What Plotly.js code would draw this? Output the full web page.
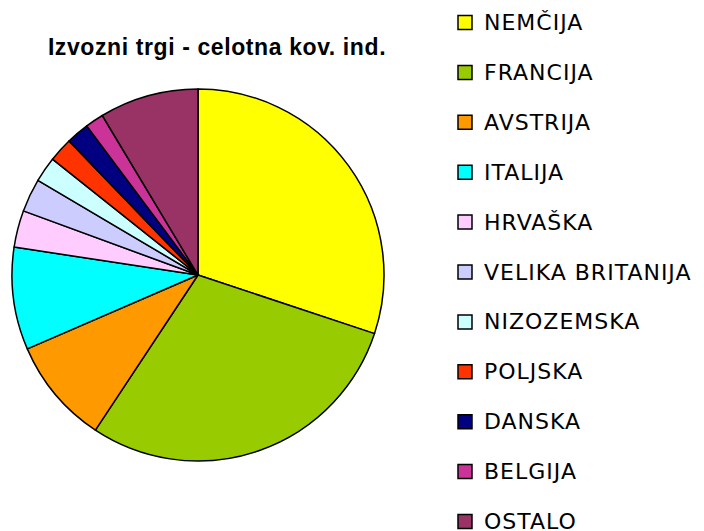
<!DOCTYPE html>
<html>
<head>
<meta charset="utf-8">
<script src="https://cdn.plot.ly/plotly-3.0.1.min.js"></script>
<style>html,body{margin:0;padding:0;background:#fff;}
.annotation-text{letter-spacing:1px;}
.gtitle{letter-spacing:0.6px;}
</style>
</head>
<body>
<div id="chart" style="width:704px;height:531px;"></div>
<script>
const labels = ["NEMČIJA","FRANCIJA","AVSTRIJA","ITALIJA","HRVAŠKA","VELIKA BRITANIJA","NIZOZEMSKA","POLJSKA","DANSKA","BELGIJA","OSTALO"];
const values = [30.1, 29.2, 9.2, 8.9, 3.2, 2.9, 2.2, 2.1, 2.0, 1.6, 8.6];
const colors = ["#FFFF00","#99CC00","#FF9900","#00FFFF","#FFCCFF","#CCCCFF","#CCFFFF","#FF3300","#000080","#CC3399","#993366"];
const titleText = "Izvozni trgi - celotna kov. ind.";

const W = 704, H = 531;
const px = x => x / W;
const py = y => 1 - y / H;

const trace = {
  type: "pie",
  labels: labels,
  values: values,
  sort: false,
  direction: "clockwise",
  rotation: 0,
  textinfo: "none",
  hoverinfo: "label+percent",
  marker: {colors: colors, line: {color: "#000000", width: 1.5}},
  domain: {x: [px(12), px(384)], y: [py(461), py(89)]},
  showlegend: false
};

const shapes = [];
const annotations = [];
labels.forEach((lab, i) => {
  const cy = 22.5 + i * 49.9;
  shapes.push({type: "rect", xref: "paper", yref: "paper",
    x0: px(458), x1: px(472), y0: py(cy + 7), y1: py(cy - 7),
    fillcolor: colors[i], line: {color: "#000000", width: 1.5}});
  annotations.push({xref: "paper", yref: "paper", x: px(482), y: py(cy),
    xanchor: "left", yanchor: "middle", showarrow: false, text: lab,
    font: {family: "DejaVu Sans", size: 22, color: "#000000"}});
});

const layout = {
  width: W, height: H,
  margin: {l: 0, r: 0, t: 0, b: 0},
  paper_bgcolor: "#ffffff",
  title: {text: "<b>" + titleText + "</b>", x: px(217), y: py(47), xanchor: "center", yanchor: "middle", xref: "paper", yref: "paper",
    font: {family: "Liberation Sans", size: 23, color: "#000000"}},
  shapes: shapes,
  annotations: annotations
};

Plotly.newPlot("chart", [trace], layout, {displayModeBar: false, staticPlot: true});
</script>
</body>
</html>
